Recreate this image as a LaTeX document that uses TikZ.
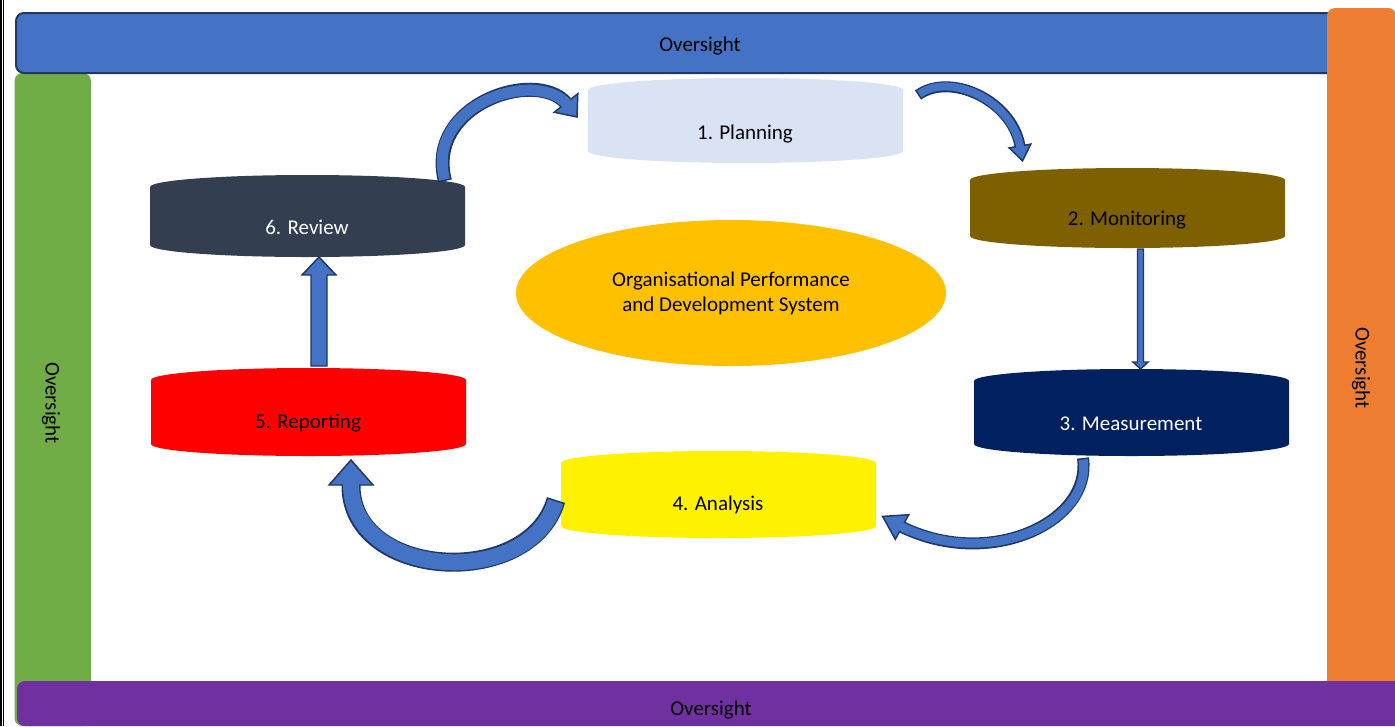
\documentclass[tikz,border=0pt]{standalone}
\usepackage{fontspec}
\setmainfont{Carlito}
\usetikzlibrary{calc,shapes.geometric}
\definecolor{barblue}{HTML}{4472C4}
\definecolor{navy}{HTML}{1F3864}
\definecolor{bargreen}{HTML}{70AD47}
\definecolor{barorange}{HTML}{ED7D31}
\definecolor{barpurple}{HTML}{7030A0}
\definecolor{cplan}{HTML}{DAE3F3}
\definecolor{creview}{HTML}{333F50}
\definecolor{cmon}{HTML}{7F6000}
\definecolor{cmeas}{HTML}{002060}
\definecolor{cyel}{HTML}{FFC000}
\definecolor{arrfill}{HTML}{4472C4}

% cylinder: x1 x2 ysidetop ysidebot ry colour
\newcommand{\cylfill}[6]{%
  \fill[#6] (#1,#3) .. controls (#1,{#3-0.552*#5}) and ({(#1+#2)/2-0.552*(#2-#1)/2},{#3-#5}) .. ({(#1+#2)/2},{#3-#5})
   .. controls ({(#1+#2)/2+0.552*(#2-#1)/2},{#3-#5}) and (#2,{#3-0.552*#5}) .. (#2,#3)
   -- (#2,#4) .. controls (#2,{#4+0.552*#5}) and ({(#1+#2)/2+0.552*(#2-#1)/2},{#4+#5}) .. ({(#1+#2)/2},{#4+#5})
   .. controls ({(#1+#2)/2-0.552*(#2-#1)/2},{#4+#5}) and (#1,{#4+0.552*#5}) .. (#1,#4) -- cycle;}

% curved block arrow: S C1 C2 E T width(px) headhalf(pt)
\newcommand{\blockarrow}[7]{%
  \draw[line width={(#6+3)*0.75pt}, navy] #1 .. controls #2 and #3 .. #4;
  \filldraw[fill=arrfill, draw=navy, line width=1.1pt, line join=miter] ($#4!#7!90:#5$) -- #5 -- ($#4!#7!-90:#5$) -- cycle;
  \draw[line width={#6*0.75pt}, arrfill, shorten <=1.2pt, shorten >=-1.2pt] #1 .. controls #2 and #3 .. #4;
}

\tikzset{
  lbl/.style={font=\fontsize{15.75pt}{18.75pt}\selectfont, inner sep=0pt, anchor=base},
  vlbl/.style={font=\fontsize{15.75pt}{18.75pt}\selectfont, inner sep=0pt, anchor=center, rotate=-90},
  straightarrow/.style={fill=arrfill, draw=navy, line width=1.1pt, line join=miter},
}

\begin{document}
\begin{tikzpicture}[x=0.75pt, y=-0.75pt]
\useasboundingbox (0,0) rectangle (1395,726);
\clip (0,0) rectangle (1395,726);
\fill[white] (0,0) rectangle (1395,726);

% left black double rule
\fill[black] (0,0) rectangle (2.3,726);
\fill[black] (3,0) rectangle (4.2,726);

% oversight bars
\fill[bargreen, rounded corners=6pt] (14.5,73) rectangle (91,726);
\filldraw[fill=barblue, draw=navy, line width=1.5pt, rounded corners=6pt] (16,13) rectangle (1345,73);
\fill[barorange, rounded corners=6pt] (1327,8) rectangle (1396,700);
\fill[barpurple, rounded corners=6pt] (17,681) rectangle (1410,726);

\node[lbl] (ovtop) at (700,51) {Oversight};
\node[lbl] (ovbot) at (711,715) {Oversight};
\node[vlbl] (ovleft) at (51,403) {Oversight};
\node[vlbl] (ovright) at (1361,368) {Oversight};

% cylinders
\cylfill{588}{903}{90}{151}{12}{cplan}
\cylfill{150}{465}{187}{245}{12}{creview}
\cylfill{970}{1285}{180}{236}{12}{cmon}
\cylfill{974}{1289}{381}{444}{12}{cmeas}
\cylfill{151}{466}{380}{444}{12}{red}
\cylfill{561}{876}{463}{526}{12}{yellow}

\node[lbl] (plan) at (745,139) {1. Planning};
\node[lbl, text=white] (review) at (307,234) {6. Review};
\node[lbl] (mon) at (1127,225) {2. Monitoring};
\node[lbl, text=white] (meas) at (1131,430) {3. Measurement};
\node[lbl] (rep) at (308,428) {5. Reporting};
\node[lbl] (ana) at (718,510) {4. Analysis};

% centre ellipse
\node[ellipse, fill=cyel, minimum width=322.5pt, minimum height=109.5pt, inner sep=0pt, align=center,
      font=\fontsize{15.75pt}{18.75pt}\selectfont] (ops) at (731,293) {Organisational Performance\\and Development System};

% connector end points
\coordinate (revtop) at (445,181);
\coordinate (planleft) at (577,117);
\coordinate (planright) at (918,95);
\coordinate (montop) at (1022.6,160.8);
\coordinate (monbot) at (1140.5,249);
\coordinate (meastop) at (1140.5,369);
\coordinate (measbot) at (1083,458);
\coordinate (anaright) at (882.6,516.4);
\coordinate (analeft) at (556,500);
\coordinate (repbot) at (351,460);
\coordinate (reptop) at (319,366);
\coordinate (revbot) at (319,257);

% curved arrows
\blockarrow{(revtop)}{(425,105)}{(535,68)}{(566,103)}{(planleft)}{11}{11.25pt}
\blockarrow{(planright)}{(950,72)}{(1012,100)}{(1020,146)}{(montop)}{8}{8.25pt}
\blockarrow{(measbot)}{(1092,522)}{(990,570)}{(902,527)}{(anaright)}{9}{10.5pt}
\blockarrow{(analeft)}{(530,590)}{(350,580)}{(351,485)}{(repbot)}{16}{16.5pt}

% straight arrows
\draw[straightarrow] ($(monbot)+(-3,0)$) -- ($(meastop)+(-3,-7)$) -- ($(meastop)+(-7.5,-7)$) -- (meastop)
  -- ($(meastop)+(7.5,-7)$) -- ($(meastop)+(3,-7)$) -- ($(monbot)+(3,0)$) -- cycle;
\draw[straightarrow] ($(reptop)+(-8,0)$) -- ($(revbot)+(-8,18)$) -- ($(revbot)+(-17,18)$) -- (revbot)
  -- ($(revbot)+(17,18)$) -- ($(revbot)+(8,18)$) -- ($(reptop)+(8,0)$) -- cycle;
\end{tikzpicture}
\end{document}
